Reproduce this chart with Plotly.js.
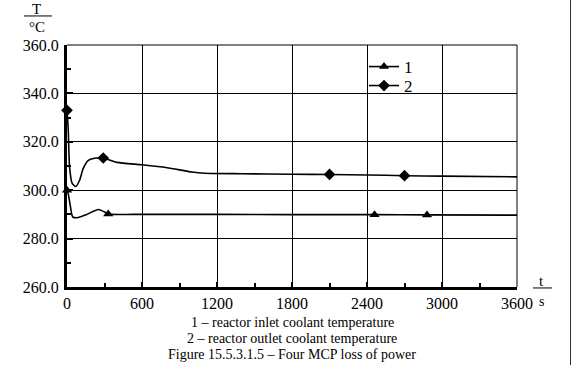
<!DOCTYPE html>
<html>
<head>
<meta charset="utf-8">
<script src="https://cdn.plot.ly/plotly-3.0.1.min.js"></script>
<style>html,body{margin:0;padding:0;background:#fff;}#chart{width:572px;height:365px;}</style>
</head>
<body>
<div id="chart"></div>
<script>
// Series 1 – reactor inlet coolant temperature
var inletT = [0, 10, 25, 45, 80, 150, 250, 300, 330, 600, 1200, 1800, 2460, 2880, 3600];
var inletV = [300.0, 298.5, 294.0, 289.0, 288.6, 289.8, 292.0, 291.0, 290.2, 290.0, 290.0, 289.9, 289.9, 289.8, 289.7];
var inletMarkT = [0, 330, 2460, 2880];
var inletMarkV = [300.0, 290.2, 289.9, 289.8];

// Series 2 – reactor outlet coolant temperature
var outletT = [0, 10, 20, 40, 70, 100, 130, 170, 220, 290, 400, 600, 800, 1000, 1100, 1400, 1800, 2100, 2400, 2700, 3000, 3600];
var outletV = [333.0, 325.0, 310.0, 303.0, 301.5, 304.0, 309.0, 312.3, 313.2, 313.3, 311.5, 310.5, 309.3, 307.5, 307.0, 306.8, 306.6, 306.5, 306.3, 306.0, 305.8, 305.5];
var outletMarkT = [0, 290, 2100, 2700];
var outletMarkV = [333.0, 313.3, 306.5, 306.0];

var seriesNames = ['1', '2'];
var xTicks = [0, 600, 1200, 1800, 2400, 3000, 3600];
var yTicks = [260, 280, 300, 320, 340, 360];

var serif = 'Liberation Serif, Times New Roman, serif';

var traces = [
  {x: inletT, y: inletV, mode: 'lines', line: {color: '#000', width: 1.6, shape: 'spline', smoothing: 0.6}, showlegend: false, hoverinfo: 'skip'},
  {x: inletMarkT, y: inletMarkV, mode: 'markers', marker: {symbol: 'triangle-up', size: 9, color: '#000'}, showlegend: false, cliponaxis: false},
  {x: outletT, y: outletV, mode: 'lines', line: {color: '#000', width: 1.6, shape: 'spline', smoothing: 0.6}, showlegend: false, hoverinfo: 'skip'},
  {x: outletMarkT, y: outletMarkV, mode: 'markers', marker: {symbol: 'diamond', size: 9, color: '#000'}, showlegend: false, cliponaxis: false},
  {x: [null], y: [null], name: seriesNames[0], legend: 'legend', mode: 'lines+markers', line: {color: '#000', width: 1.6}, marker: {symbol: 'triangle-up', size: 9, color: '#000'}},
  {x: [null], y: [null], name: seriesNames[1], legend: 'legend2', mode: 'lines+markers', line: {color: '#000', width: 1.6}, marker: {symbol: 'diamond', size: 9, color: '#000'}}
];

var legendBase = {xanchor: 'left', yanchor: 'middle', bgcolor: 'rgba(0,0,0,0)', font: {family: serif, size: 17}, borderwidth: 0};

var layout = {
  width: 572, height: 365,
  margin: {l: 67, r: 55, t: 45, b: 78},
  paper_bgcolor: '#fff', plot_bgcolor: '#fff',
  font: {family: serif, size: 16, color: '#000'},
  showlegend: true,
  legend: Object.assign({x: 0.66, y: 0.909}, legendBase),
  legend2: Object.assign({x: 0.66, y: 0.8306}, legendBase),
  xaxis: {
    range: [0, 3600], tickvals: xTicks, ticktext: xTicks.map(String),
    showgrid: true, gridcolor: '#000', gridwidth: 1,
    showline: true, linecolor: '#000', linewidth: 3,
    ticks: 'inside', ticklen: 5, tickwidth: 2, tickcolor: '#000',
    minor: {dtick: 300, ticks: 'inside', ticklen: 4, tickwidth: 2, tickcolor: '#000', showgrid: false},
    zeroline: false, tickfont: {family: serif, size: 16}, fixedrange: true
  },
  yaxis: {
    range: [260, 360], tickvals: yTicks, ticktext: yTicks.map(function(v){return v.toFixed(1);}),
    showgrid: true, gridcolor: '#000', gridwidth: 1,
    showline: true, linecolor: '#000', linewidth: 3,
    ticks: 'inside', ticklen: 6, tickwidth: 2, tickcolor: '#000',
    minor: {dtick: 10, ticks: 'inside', ticklen: 4, tickwidth: 2, tickcolor: '#000', showgrid: false},
    zeroline: false, tickfont: {family: serif, size: 16}, ticklabelstandoff: 2, fixedrange: true
  },
  shapes: [
    {type: 'line', xref: 'paper', yref: 'paper', x0: -0.0956, x1: -0.0333, y0: 1.12, y1: 1.12, line: {color: '#000', width: 1}},
    {type: 'line', xref: 'paper', yref: 'paper', x0: 1.0355, x1: 1.078, y0: -0.004, y1: -0.004, line: {color: '#000', width: 1}},
    {type: 'line', xref: 'paper', yref: 'paper', x0: 0, x1: 1, y0: 1, y1: 1, line: {color: '#000', width: 1}},
    {type: 'line', xref: 'paper', yref: 'paper', x0: 1, x1: 1, y0: 0, y1: 1, line: {color: '#000', width: 1}},
    {type: 'line', xref: 'paper', yref: 'paper', x0: 1.1189, x1: 1.1189, y0: -0.33, y1: 1.19, line: {color: '#333', width: 1}}
  ],
  annotations: [
    {xref: 'paper', yref: 'paper', x: -0.0667, y: 1.12, text: 'T', showarrow: false, xanchor: 'center', yanchor: 'bottom', yshift: -3, font: {family: serif, size: 15}},
    {xref: 'paper', yref: 'paper', x: -0.0667, y: 1.076, text: '°C', showarrow: false, xanchor: 'center', yanchor: 'middle', font: {family: serif, size: 15}},
    {xref: 'paper', yref: 'paper', x: 1.0555, y: -0.004, text: 't', showarrow: false, xanchor: 'center', yanchor: 'bottom', yshift: -3, font: {family: serif, size: 15}},
    {xref: 'paper', yref: 'paper', x: 1.0555, y: -0.058, text: 's', showarrow: false, xanchor: 'center', yanchor: 'middle', font: {family: serif, size: 14}},
    {xref: 'paper', yref: 'paper', x: 0.5, y: -0.145, text: '1 – reactor inlet coolant temperature', showarrow: false, xanchor: 'center', yanchor: 'middle', font: {family: serif, size: 14}},
    {xref: 'paper', yref: 'paper', x: 0.5, y: -0.211, text: '2 – reactor outlet coolant temperature', showarrow: false, xanchor: 'center', yanchor: 'middle', font: {family: serif, size: 14}},
    {xref: 'paper', yref: 'paper', x: 0.5, y: -0.278, text: 'Figure 15.5.3.1.5 – Four MCP loss of power', showarrow: false, xanchor: 'center', yanchor: 'middle', font: {family: serif, size: 14}}
  ]
};

Plotly.newPlot('chart', traces, layout, {displayModeBar: false, staticPlot: true});
</script>
</body>
</html>
